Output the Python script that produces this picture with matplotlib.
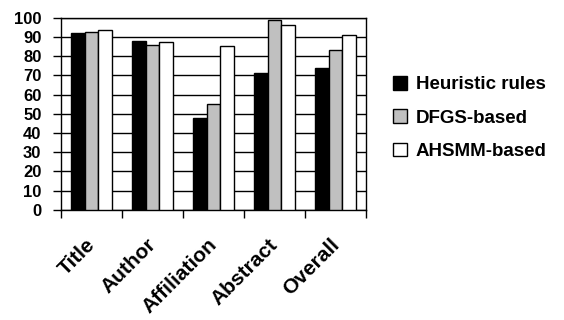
import matplotlib
matplotlib.use("Agg")
import matplotlib.pyplot as plt
import numpy as np

categories = ["Title", "Author", "Affiliation", "Abstract", "Overall"]
series_names = ["Heuristic rules", "DFGS-based", "AHSMM-based"]
heuristic = [92, 88, 48, 71, 74]
dfgs = [92.5, 86, 55, 99, 83]
ahsmm = [93.5, 87.5, 85, 96, 91]
yticks = [0, 10, 20, 30, 40, 50, 60, 70, 80, 90, 100]

plt.rcParams['font.family'] = ['Liberation Sans', 'DejaVu Sans']
plt.rcParams['font.weight'] = 'bold'

fig = plt.figure(figsize=(5.64, 3.2), dpi=100)
ax = fig.add_axes([0.108, 0.344, 0.541, 0.601])

x = np.arange(len(categories))
w = 0.22
colors = ["#000000", "#c0c0c0", "#ffffff"]
for i, (vals, name) in enumerate(zip([heuristic, dfgs, ahsmm], series_names)):
    ax.bar(x + (i - 1) * w, vals, width=w, color=colors[i], edgecolor="black",
           linewidth=1.0, label=name, zorder=3)

ax.set_xlim(-0.5, len(categories) - 0.5)
ax.set_ylim(0, 100)
ax.set_yticks(yticks)
ax.set_yticklabels([str(v) for v in yticks], fontsize=12, fontweight='bold')
ax.yaxis.grid(True, color='black', linewidth=1.0, zorder=0)
ax.set_axisbelow(True)

ax.set_xticks(np.arange(len(categories) + 1) - 0.5)
ax.set_xticklabels([])
ax.tick_params(axis='x', direction='out', length=6, width=1.0, color='black')
ax.tick_params(axis='y', direction='out', length=6, width=1.0, color='black', pad=8)
for s in ax.spines.values():
    s.set_linewidth(1.0)
    s.set_color('black')

for xi, cat in zip(x, categories):
    ax.text(xi - 0.1, -13, cat, rotation=45, ha='right', va='top',
            rotation_mode='anchor', fontsize=15, fontweight='bold',
            transform=ax.transData)

leg = fig.legend(loc='upper left', bbox_to_anchor=(0.697, 0.762), frameon=False,
                 prop={'weight': 'bold', 'size': 13.5}, borderpad=0,
                 borderaxespad=0,
                 handlelength=0.72, handleheight=0.72, handletextpad=0.5,
                 labelspacing=0.85)

fig.savefig("out.png", dpi=100)
